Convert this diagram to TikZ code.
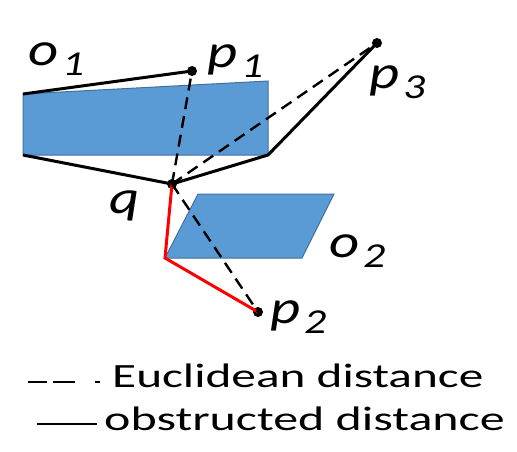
\documentclass[tikz,border=0pt]{standalone}
\usepackage{fontspec}
\usepackage{graphicx}
\setmainfont{Carlito}
\newcommand{\lbl}[2]{\scalebox{1.25}[1]{\fontsize{47}{47}\selectfont\itshape #1\hspace{3pt}\raisebox{-10pt}{\fontsize{35}{35}\selectfont #2}}}
\tikzset{
  obst/.style={fill={rgb,255:red,91;green,155;blue,213}, draw={rgb,255:red,65;green,113;blue,156}, line width=1pt},
  solidpath/.style={line width=3pt, black, line join=miter},
  redpath/.style={line width=3pt, red, line join=miter},
  eucl/.style={line width=2.4pt, black, dash pattern=on 12pt off 7pt},
  dot/.style={circle, fill=black, inner sep=0pt, minimum size=10pt},
  lab/.style={anchor=base west, inner sep=0pt},
  legtext/.style={anchor=base west, inner sep=0pt, font=\fontsize{34}{34}\selectfont}
}
\begin{document}
\begin{tikzpicture}[x=1pt,y=-1pt]
\useasboundingbox (0,0) rectangle (517,451);
% obstacles
\path[obst] (23,94) -- (268,81) -- (268,155) -- (23,155) -- cycle;
\path[obst] (198,194) -- (334,194) -- (302,258) -- (165,258) -- cycle;
% corner coordinates
\coordinate (o1tl) at (23,94);
\coordinate (o1bl) at (23,155);
\coordinate (o1br) at (268,155);
\coordinate (o2bl) at (165,258);
% points
\node[dot] (p1) at (192,71) {};
\node[dot] (q) at (172,184) {};
\node[dot] (p3) at (377,43) {};
\node[dot] (p2) at (258,312) {};
% obstructed paths
\draw[solidpath] (o1tl) -- (p1.center);
\draw[solidpath] (o1bl) -- (q.center) -- (o1br) -- (p3.center);
\draw[redpath] (q.center) -- (o2bl) -- (p2.center);
% euclidean
\draw[eucl] (q.center) -- (p1.center);
\draw[eucl] (q.center) -- (p3.center);
\draw[eucl] (q.center) -- (p2.center);
% labels
\node[lab] (lo1) at (28,65) {\lbl{o}{1}};
\node[lab] (lp1) at (207,67) {\lbl{p}{1}};
\node[lab] (lp3) at (369,88) {\lbl{p}{3}};
\node[lab] (lo2) at (329,257) {\lbl{o}{2}};
\node[lab] (lp2) at (270,323) {\lbl{p}{2}};
\node[lab] (lq) at (109,213) {\scalebox{1.25}[1]{\fontsize{47}{47}\selectfont\itshape q}};
% legend
\coordinate (d1) at (28,382);
\coordinate (d2) at (102,382);
\draw[line width=2pt, dash pattern=on 19pt off 6pt on 22pt off 20pt on 5pt off 50pt] (d1) -- (d2);
\node[legtext] (t1) at (112,387) {\scalebox{1.45}[1]{Euclidean distance}};
\coordinate (s1) at (37,424);
\coordinate (s2) at (97,424);
\draw[line width=2pt] (s1) -- (s2);
\node[legtext] (t2) at (104,430) {\scalebox{1.47}[1]{obstructed distance}};
\end{tikzpicture}
\end{document}
